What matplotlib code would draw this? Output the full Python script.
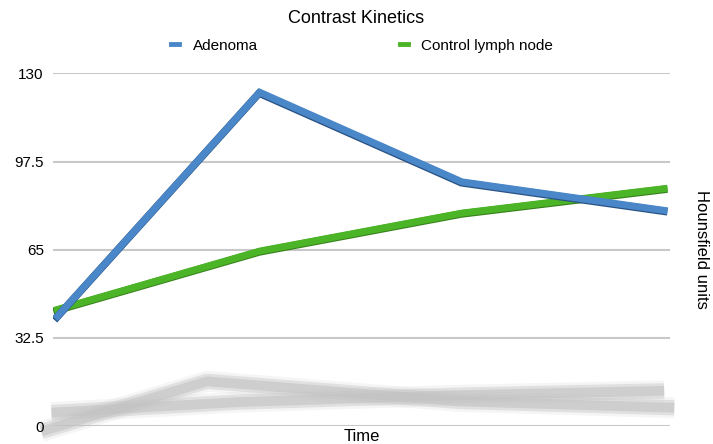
import numpy as np
import matplotlib
matplotlib.use('Agg')
import matplotlib.pyplot as plt
import matplotlib.patheffects as pe

plt.rcParams['font.family'] = ['Liberation Sans', 'DejaVu Sans']

# Dane
time_points = [0, 1, 2, 3]
adenoma = [40.5, 123, 90, 79.5]
control = [43, 64.5, 78.5, 87.5]
y_ticks = [0, 32.5, 65, 97.5, 130]
y_tick_labels = ['0', '32.5', '65', '97.5', '130']

blue = '#4a87c9'
blue_dark = '#2a5384'
green = '#4cb427'
green_dark = '#37801c'

fig = plt.figure(figsize=(7.13, 4.44), dpi=100)
ax = fig.add_axes([0.075, 0.04, 0.865, 0.795])

# Siatka
for t in y_ticks:
    ax.axhline(t, color='#c8c8c8', lw=1.5, zorder=0)

# Odbicie (cień) pod wykresem: (seria, skala, przesunięcie, przesunięcie x)
x = np.array(time_points, dtype=float)
shadows = [(adenoma, 0.224, -11, [-0.08, -0.26, -0.02, 0.05]),
           (control, 0.18, -2.7, [-0.03, -0.1, -0.02, 0.0])]
for series, k, b, dx in shadows:
    ys = k * np.array(series) + b
    xs = x + np.array(dx)
    for lw, a in [(15, 0.15), (11, 0.4), (7, 0.6)]:
        ax.plot(xs, ys, color='#c2c2c2', lw=lw, alpha=a,
                solid_capstyle='butt', solid_joinstyle='round', zorder=1,
                clip_on=False)

# Linie
ax.plot(time_points, control, color=green, lw=5, zorder=3,
        solid_joinstyle='miter', label='Control lymph node',
        path_effects=[pe.Stroke(linewidth=5.5, foreground=green_dark, offset=(-0.4, -0.6)),
                      pe.Normal()])
ax.plot(time_points, adenoma, color=blue, lw=5, zorder=4,
        solid_joinstyle='miter', label='Adenoma',
        path_effects=[pe.Stroke(linewidth=5.5, foreground=blue_dark, offset=(-0.4, -0.6)),
                      pe.Normal()])

ax.set_xlim(-0.02, 3.03)
ax.set_ylim(0, 130)
ax.set_yticks(y_ticks)
ax.set_yticklabels(y_tick_labels, fontsize=11)
ax.set_xticks([])
ax.tick_params(axis='y', length=0, pad=7)
for s in ax.spines.values():
    s.set_visible(False)
ax.patch.set_alpha(0)

ax.set_xlabel('Time', fontsize=12, labelpad=2)
ax.yaxis.set_label_position('right')
ax.set_ylabel('Hounsfield units', fontsize=12, rotation=-90, labelpad=28)

fig.text(0.5, 0.958, 'Contrast Kinetics', ha='center', va='center', fontsize=13)

h = [plt.Line2D([], [], color=blue, lw=3.5), plt.Line2D([], [], color=green, lw=3.5)]
fig.legend(h, ['Adenoma', 'Control lymph node'], loc='center',
           bbox_to_anchor=(0.508, 0.897), ncol=2, frameon=False, fontsize=11,
           handlelength=0.5, handletextpad=0.9, columnspacing=9.3)

fig.savefig('out.png', dpi=100)
